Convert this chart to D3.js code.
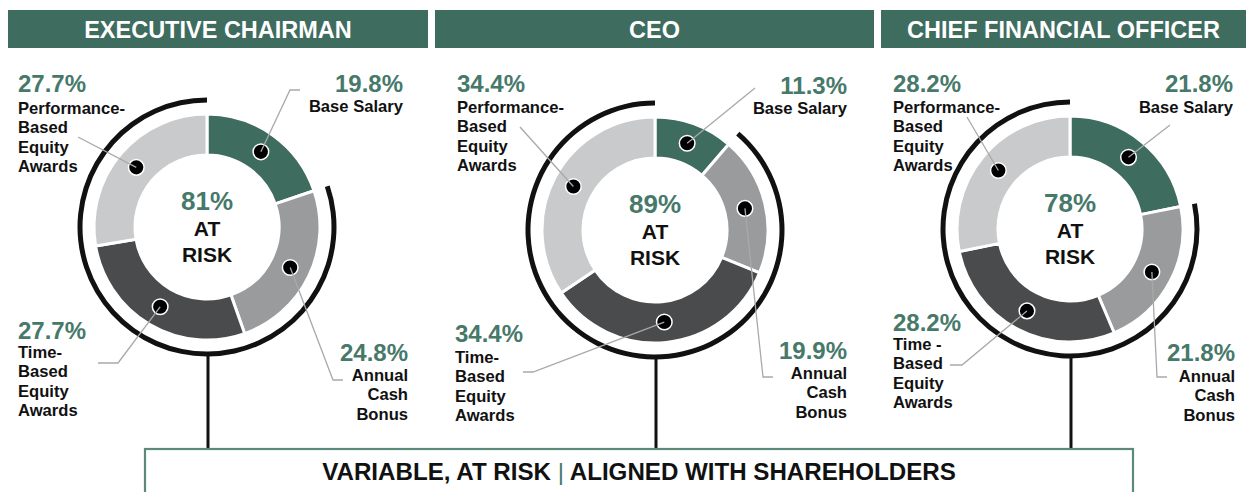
<!DOCTYPE html>
<html lang="en">
<head>
  <meta charset="UTF-8">
  <title>Pay Mix - At Risk</title>
  <script src="https://d3js.org/d3.v7.min.js"></script>
  <style>
    body {
      margin: 0;
      background: #fff;
      overflow: hidden;
    }
    svg {
      display: block;
      font-family: "Liberation Sans", Arial, sans-serif;
    }
  </style>
</head>
<body>
  <script>
    // chart data
    const roles = ["EXECUTIVE CHAIRMAN", "CEO", "CHIEF FINANCIAL OFFICER"];
    const components = ["Base Salary", "Annual Cash Bonus", "Time-Based Equity Awards", "Performance-Based Equity Awards"];
    const chairmanPct = [19.8, 24.8, 27.7, 27.7];
    const ceoPct = [11.3, 19.9, 34.4, 34.4];
    const cfoPct = [21.8, 21.8, 28.2, 28.2];
    const atRiskPct = [81, 89, 78];
    const footerLeft = "VARIABLE, AT RISK";
    const footerRight = "ALIGNED WITH SHAREHOLDERS";

    // label wording for each component (line breaks as in the picture)
    const labelLines = [
      ["Base Salary"],
      ["Annual", "Cash", "Bonus"],
      ["Time-", "Based", "Equity", "Awards"],
      ["Performance-", "Based", "Equity", "Awards"]
    ];
    const cfoTimeLines = ["Time  -", "Based", "Equity", "Awards"];

    const width = 1250;
    const height = 492;
    const green = "#3e6c5e";
    const textGreen = "#47796a";
    const segColors = [green, "#9a9b9d", "#4a4b4d", "#c9cacc"];

    // layout per panel: header bar, donut centre, label anchors, leader ends
    const panels = [
      {
        values: chairmanPct, bar: [8, 428], cx: 207, cy: 227,
        labels: [
          { x: 403, anchor: "end", pctY: 83, lineY: 106 },
          { x: 408, anchor: "end", pctY: 352, lineY: 375 },
          { x: 18, anchor: "start", pctY: 330, lineY: 352 },
          { x: 18, anchor: "start", pctY: 83, lineY: 108 }
        ],
        leaders: [
          [[290, 90], [300, 90]],
          [[333, 380], [343, 380]],
          [[118, 363], [98, 363]],
          [[78, 137]]
        ]
      },
      {
        values: ceoPct, bar: [435, 874], cx: 655, cy: 230,
        labels: [
          { x: 847, anchor: "end", pctY: 85, lineY: 108 },
          { x: 847, anchor: "end", pctY: 350, lineY: 373 },
          { x: 455, anchor: "start", pctY: 333, lineY: 357 },
          { x: 457, anchor: "start", pctY: 83, lineY: 107 }
        ],
        leaders: [
          [[755, 88]],
          [[763, 377], [773, 377]],
          [[533, 372], [523, 372]],
          [[520, 127]]
        ]
      },
      {
        values: cfoPct, bar: [881, 1246], cx: 1070, cy: 229,
        labels: [
          { x: 1233, anchor: "end", pctY: 83, lineY: 107 },
          { x: 1235, anchor: "end", pctY: 352, lineY: 376 },
          { x: 893, anchor: "start", pctY: 322, lineY: 344 },
          { x: 893, anchor: "start", pctY: 83, lineY: 107 }
        ],
        leaders: [
          [[1170, 125]],
          [[1157, 377], [1167, 377]],
          [[962, 365], [950, 365]],
          [[967, 117]]
        ]
      }
    ];

    const svg = d3.select("body")
      .append("svg")
      .attr("width", width)
      .attr("height", height);

    const pie = d3.pie().sort(null).value(d => d);
    const arc = d3.arc().innerRadius(72).outerRadius(113);
    const riskArc = d3.arc().innerRadius(124.5).outerRadius(129.5);
    const lineStep = 19.4;

    const boxTop = 449;

    panels.forEach((p, i) => {
      const g = svg.append("g");

      // header bar
      g.append("rect")
        .attr("x", p.bar[0])
        .attr("y", 10)
        .attr("width", p.bar[1] - p.bar[0])
        .attr("height", 38)
        .attr("fill", green);

      g.append("text")
        .attr("x", (p.bar[0] + p.bar[1]) / 2)
        .attr("y", 37.5)
        .attr("text-anchor", "middle")
        .attr("fill", "#fff")
        .attr("font-weight", "bold")
        .attr("font-size", 23.5)
        .text(roles[i]);

      const slices = pie(p.values);
      const donut = g.append("g").attr("transform", `translate(${p.cx},${p.cy})`);

      // stem down to the footer box
      g.append("line")
        .attr("x1", p.cx + 1).attr("x2", p.cx + 1)
        .attr("y1", p.cy + 128).attr("y2", boxTop)
        .attr("stroke", "#111")
        .attr("stroke-width", 3);

      // black "at risk" arc covers everything but base salary
      donut.append("path")
        .attr("d", riskArc({ startAngle: slices[0].endAngle, endAngle: 2 * Math.PI }))
        .attr("fill", "#111");

      donut.selectAll("path.seg")
        .data(slices)
        .join("path")
        .attr("class", "seg")
        .attr("d", arc)
        .attr("fill", (d, j) => segColors[j])
        .attr("stroke", "#fff")
        .attr("stroke-width", 3);

      // leader lines from each slice centroid
      slices.forEach((s, j) => {
        const c = arc.centroid(s);
        const pts = [[p.cx + c[0], p.cy + c[1]]].concat(p.leaders[j]);
        g.append("path")
          .attr("d", d3.line()(pts))
          .attr("fill", "none")
          .attr("stroke", "#a9a9a9")
          .attr("stroke-width", 1.3);
      });

      donut.selectAll("circle.dot")
        .data(slices)
        .join("circle")
        .attr("class", "dot")
        .attr("cx", d => arc.centroid(d)[0])
        .attr("cy", d => arc.centroid(d)[1])
        .attr("r", 7.8)
        .attr("fill", "#000")
        .attr("stroke", "#fff")
        .attr("stroke-width", 1.5);

      // centre text
      donut.append("text")
        .attr("y", -26 + 9)
        .attr("text-anchor", "middle")
        .attr("fill", textGreen)
        .attr("font-weight", "bold")
        .attr("font-size", 26)
        .text(atRiskPct[i] + "%");

      ["AT", "RISK"].forEach((t, k) => {
        donut.append("text")
          .attr("y", 1 + k * 26 + 7.5)
          .attr("text-anchor", "middle")
          .attr("fill", "#111")
          .attr("font-weight", "bold")
          .attr("font-size", 21)
          .text(t);
      });

      // component labels
      p.labels.forEach((lab, j) => {
        g.append("text")
          .attr("x", lab.x)
          .attr("y", lab.pctY + 8.5)
          .attr("text-anchor", lab.anchor)
          .attr("fill", textGreen)
          .attr("font-weight", "bold")
          .attr("font-size", 24)
          .text(p.values[j].toFixed(1) + "%");

        const lines = (i === 2 && j === 2) ? cfoTimeLines : labelLines[j];
        lines.forEach((t, k) => {
          g.append("text")
            .attr("x", lab.x)
            .attr("y", lab.lineY + k * lineStep + 5.8)
            .attr("text-anchor", lab.anchor)
            .attr("fill", "#111")
            .attr("font-weight", "bold")
            .attr("font-size", 16.6)
            .text(t);
        });
      });
    });

    // footer box
    svg.append("rect")
      .attr("x", 145)
      .attr("y", boxTop)
      .attr("width", 988)
      .attr("height", 80)
      .attr("fill", "none")
      .attr("stroke", "#5b8a7c")
      .attr("stroke-width", 2.2);

    const footer = svg.append("text")
      .attr("x", 639)
      .attr("y", 480)
      .attr("text-anchor", "middle")
      .attr("font-family", "'Liberation Sans Narrow', 'Liberation Sans', sans-serif")
      .attr("font-weight", "bold")
      .attr("font-size", 22)
      .attr("fill", "#111");
    footer.append("tspan").text(footerLeft + " ");
    footer.append("tspan").attr("fill", textGreen).attr("font-weight", "normal").text("|");
    footer.append("tspan").text(" " + footerRight);

    // fit the footer line to the width seen in the picture
    const target = 634;
    const len = footer.node().getComputedTextLength();
    if (len > 0) footer.attr("font-size", 22 * target / len);
  </script>
</body>
</html>
